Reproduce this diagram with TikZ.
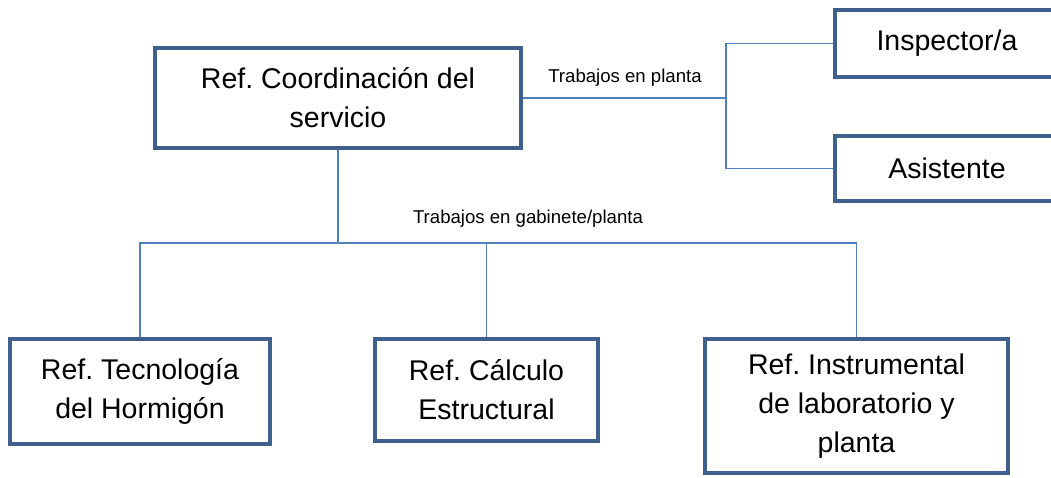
\documentclass[tikz,border=0pt]{standalone}
\usepackage{fontspec}
\setmainfont{Liberation Sans}
\usetikzlibrary{calc}
\definecolor{boxblue}{HTML}{3F5F8C}
\definecolor{linkblue}{HTML}{4F81BD}
\frenchspacing

\begin{document}
\begin{tikzpicture} [x=1pt, y=-1pt,
  box/.style={draw=boxblue, line width=4.5pt, fill=white, align=center, inner sep=0pt,
    font=\fontsize{28.5}{39}\selectfont},
  link/.style={draw=linkblue, line width=1.6pt},
  tag/.style={font=\fontsize{18.6}{20}\selectfont, inner sep=0pt}]
\useasboundingbox (0,0) rectangle (1051,477);
\clip (0,0) rectangle (1051,477);
\node[box, minimum width=366, minimum height=100] (coord) at (338,98) {Ref. Coordinación del\\servicio};
\node[box, minimum width=224, minimum height=67] (insp) at (947,43.5) {Inspector/a};
\node[box, minimum width=224, minimum height=65] (asis) at (947,168.5) {Asistente};
\node[box, minimum width=260, minimum height=105] (tec) at (140,391.5) {Ref. Tecnología\\del Hormigón};
\node[box, minimum width=223, minimum height=102] (calc) at (486.5,390) {Ref. Cálculo\\Estructural};
\node[box, minimum width=303, minimum height=134] (instr) at (856.5,406) {Ref. Instrumental\\de laboratorio y\\planta};
\coordinate (jr) at (726,98);
\coordinate (jb) at (338,243);
\draw[link] (coord.east) -- (jr);
\draw[link] (insp.west) -| (jr) |- (asis.west);
\draw[link] (coord.south) -- (jb);
\draw[link] (tec.north) |- (jb) -| (instr.north);
\draw[link] (calc.north) -- (calc.north |- jb);
\node[tag] (planta) at (625,78) {Trabajos en planta};
\node[tag] (gabinete) at (528,219) {Trabajos en gabinete/planta};
\end{tikzpicture}
\end{document}
